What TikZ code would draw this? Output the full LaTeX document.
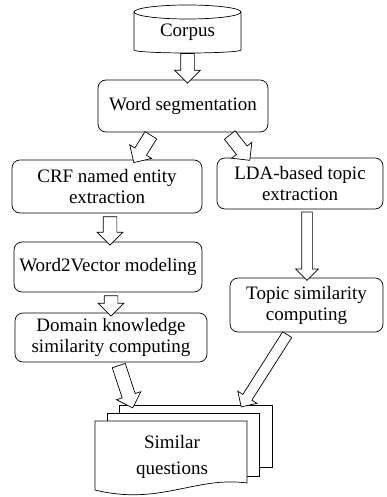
\documentclass[tikz,border=0pt]{standalone}
\usepackage{fontspec}
\setmainfont{Liberation Serif}
\usetikzlibrary{shapes.arrows,calc}
\tikzset{
  box/.style={draw, rounded corners=8pt, align=center, inner sep=0pt, line width=0.7pt,
    font=\fontsize{19}{21}\selectfont},
  sheet/.style={draw, fill=white, line width=0.7pt, inner sep=0pt},
  barrow/.style={single arrow, draw, fill=white, line width=0.7pt, inner sep=0pt,
    inner ysep=6.5pt, single arrow head extend=6pt, single arrow tip angle=90},
  thinbarrow/.style={barrow, inner ysep=5pt, single arrow head extend=6pt},
  lbl/.style={align=center, inner sep=0pt, font=\fontsize{19}{21}\selectfont}
}
\newcommand\blockarrow[3][]{%
  \path let \p1=(#2), \p2=(#3), \n1={atan2(\y2-\y1,\x2-\x1)},
    \n2={veclen(\x2-\x1,\y2-\y1)} in
    node[barrow,#1,minimum height=\n2,rotate=\n1] at ($(\p1)!0.5!(\p2)$) {};}
\begin{document}
\begin{tikzpicture}[x=1pt,y=-1pt]
\useasboundingbox (0,0) rectangle (386,497);
% corpus cylinder
\draw[line width=0.7pt, fill=white] (134,12) -- (134,50)
  arc[start angle=180, end angle=360, x radius=53.5pt, y radius=3pt] -- (241,12);
\draw[line width=0.7pt] (187.5,12) ellipse [x radius=53.5pt, y radius=7pt];
\node[lbl, minimum width=107pt, minimum height=38pt] (corpus) at (187.5,32) {Corpus};
\coordinate (corpusb) at (187.5,50);
% boxes
\node[box, minimum width=170pt, minimum height=52pt] (ws) at (183,106) {Word segmentation};
\node[box, minimum width=190pt, minimum height=53pt] (crf) at (107,186.5) {CRF named entity\\extraction};
\node[box, minimum width=166pt, minimum height=51pt] (lda) at (300,183.5) {LDA-based topic\\extraction};
\node[box, minimum width=188pt, minimum height=50pt] (w2v) at (108,267) {Word2Vector modeling};
\node[box, minimum width=153pt, minimum height=54pt] (topic) at (306.5,305) {Topic similarity\\computing};
\node[box, minimum width=192pt, minimum height=49pt] (domain) at (111,337.5) {Domain knowledge\\similarity computing};
% document stack
\node[sheet, minimum width=153pt, minimum height=62pt] (simback) at (195.5,436) {};
\node[sheet, minimum width=152pt, minimum height=63pt] (simmid) at (183,444.5) {};
\draw[line width=0.7pt, fill=white] (95,421) -- (247,421) -- (247,483)
  .. controls (195,476) and (160,506) .. (95,490) -- cycle;
\node[lbl] (sim) at (172,457) {Similar\\[5pt]questions};
% arrows
\blockarrow{corpusb}{corpusb |- ws.north}
\blockarrow{$(ws.south west)+(55,0)$}{$(crf.north west)+(124,0)$}
\blockarrow{$(ws.south west)+(130,0)$}{$(lda.north west)+(31,0)$}
\blockarrow{$(crf.south)+(3,0)$}{$(w2v.north)+(2,0)$}
\blockarrow[thinbarrow]{$(lda.south)+(7,0)$}{$(topic.north)+(0.5,0)$}
\blockarrow{$(w2v.south)+(3,0)$}{$(domain.north)+(0,0)$}
\blockarrow{$(domain.south west)+(103,0)$}{$(simback.north west)+(13,0)$}
\blockarrow[thinbarrow]{$(topic.south west)+(59,0)$}{$(simback.north west)+(124,0)$}
\end{tikzpicture}
\end{document}
